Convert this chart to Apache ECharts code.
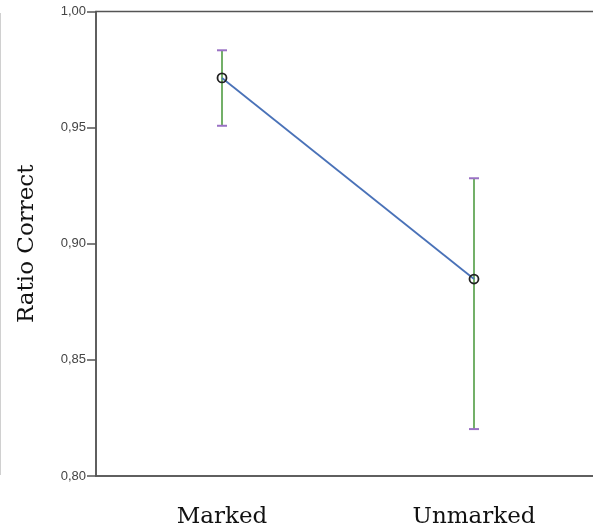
<!DOCTYPE html>
<html><head><meta charset="utf-8">
<script src="https://cdn.jsdelivr.net/npm/echarts@6/dist/echarts.min.js"></script>
<style>html,body{margin:0;padding:0;background:#fff}#c{width:593px;height:530px}</style>
</head><body><div id="c"></div>
<script>
var categories = ['Marked', 'Unmarked'];
var means = [0.9714, 0.8848];
var lower = [0.9508, 0.8202];
var upper = [0.9833, 0.9282];
var yTicks = ['0,80', '0,85', '0,90', '0,95', '1,00'];

var chart = echarts.init(document.getElementById('c'));
var errData = categories.map(function (c, i) { return [i, lower[i], upper[i]]; });
chart.setOption({
  animation: false,
  grid: { left: 96, top: 11.5, width: 504, height: 464.5, outerBoundsMode: 'none', containLabel: false,
    show: true, borderColor: '#555', borderWidth: 1.5, backgroundColor: 'transparent' },
  xAxis: {
    type: 'category', data: categories, boundaryGap: true,
    axisLine: { lineStyle: { color: '#555', width: 1.5 } },
    axisTick: { alignWithLabel: true, length: 10, lineStyle: { color: '#555', width: 1.5 } },
    axisLabel: { margin: 30, color: '#111', fontFamily: 'DejaVu Serif', fontSize: 23 },
    splitLine: { show: false }
  },
  yAxis: {
    type: 'value', min: 0.8, max: 1.0, interval: 0.05,
    name: 'Ratio Correct', nameLocation: 'middle', nameGap: 57,
    nameTextStyle: { color: '#111', fontFamily: 'DejaVu Serif', fontSize: 23 },
    axisLine: { show: true, lineStyle: { color: '#555', width: 1.5 } },
    axisTick: { show: true, length: 9, lineStyle: { color: '#555', width: 1.5 } },
    axisLabel: { margin: 10, color: '#444', fontFamily: 'Liberation Sans', fontSize: 13,
      formatter: function (v) { var i = Math.round((v - 0.8) / 0.05); return yTicks[i]; } },
    splitLine: { show: false }
  },
  graphic: [{ type: 'line', shape: { x1: 0.5, y1: 13, x2: 0.5, y2: 475 }, style: { stroke: '#d0d0d0', lineWidth: 1 } }],
  series: [
    {
      type: 'custom', data: errData, z: 3,
      renderItem: function (params, api) {
        var x = api.value(0);
        var lo = api.coord([x, api.value(1)]);
        var hi = api.coord([x, api.value(2)]);
        var hw = 5;
        return { type: 'group', children: [
          { type: 'line', shape: { x1: lo[0], y1: lo[1], x2: hi[0], y2: hi[1] }, style: { stroke: '#64a858', lineWidth: 1.8 } },
          { type: 'line', shape: { x1: hi[0] - hw, y1: hi[1], x2: hi[0] + hw, y2: hi[1] }, style: { stroke: '#9a72c4', lineWidth: 2 } },
          { type: 'line', shape: { x1: lo[0] - hw, y1: lo[1], x2: lo[0] + hw, y2: lo[1] }, style: { stroke: '#9a72c4', lineWidth: 2 } }
        ] };
      }
    },
    {
      type: 'line', data: means, z: 4,
      lineStyle: { color: '#4a72b8', width: 1.8 },
      symbol: 'circle', symbolSize: 9,
      itemStyle: { color: 'rgba(0,0,0,0)', borderColor: '#222', borderWidth: 1.8 }
    }
  ]
});
</script></body></html>
